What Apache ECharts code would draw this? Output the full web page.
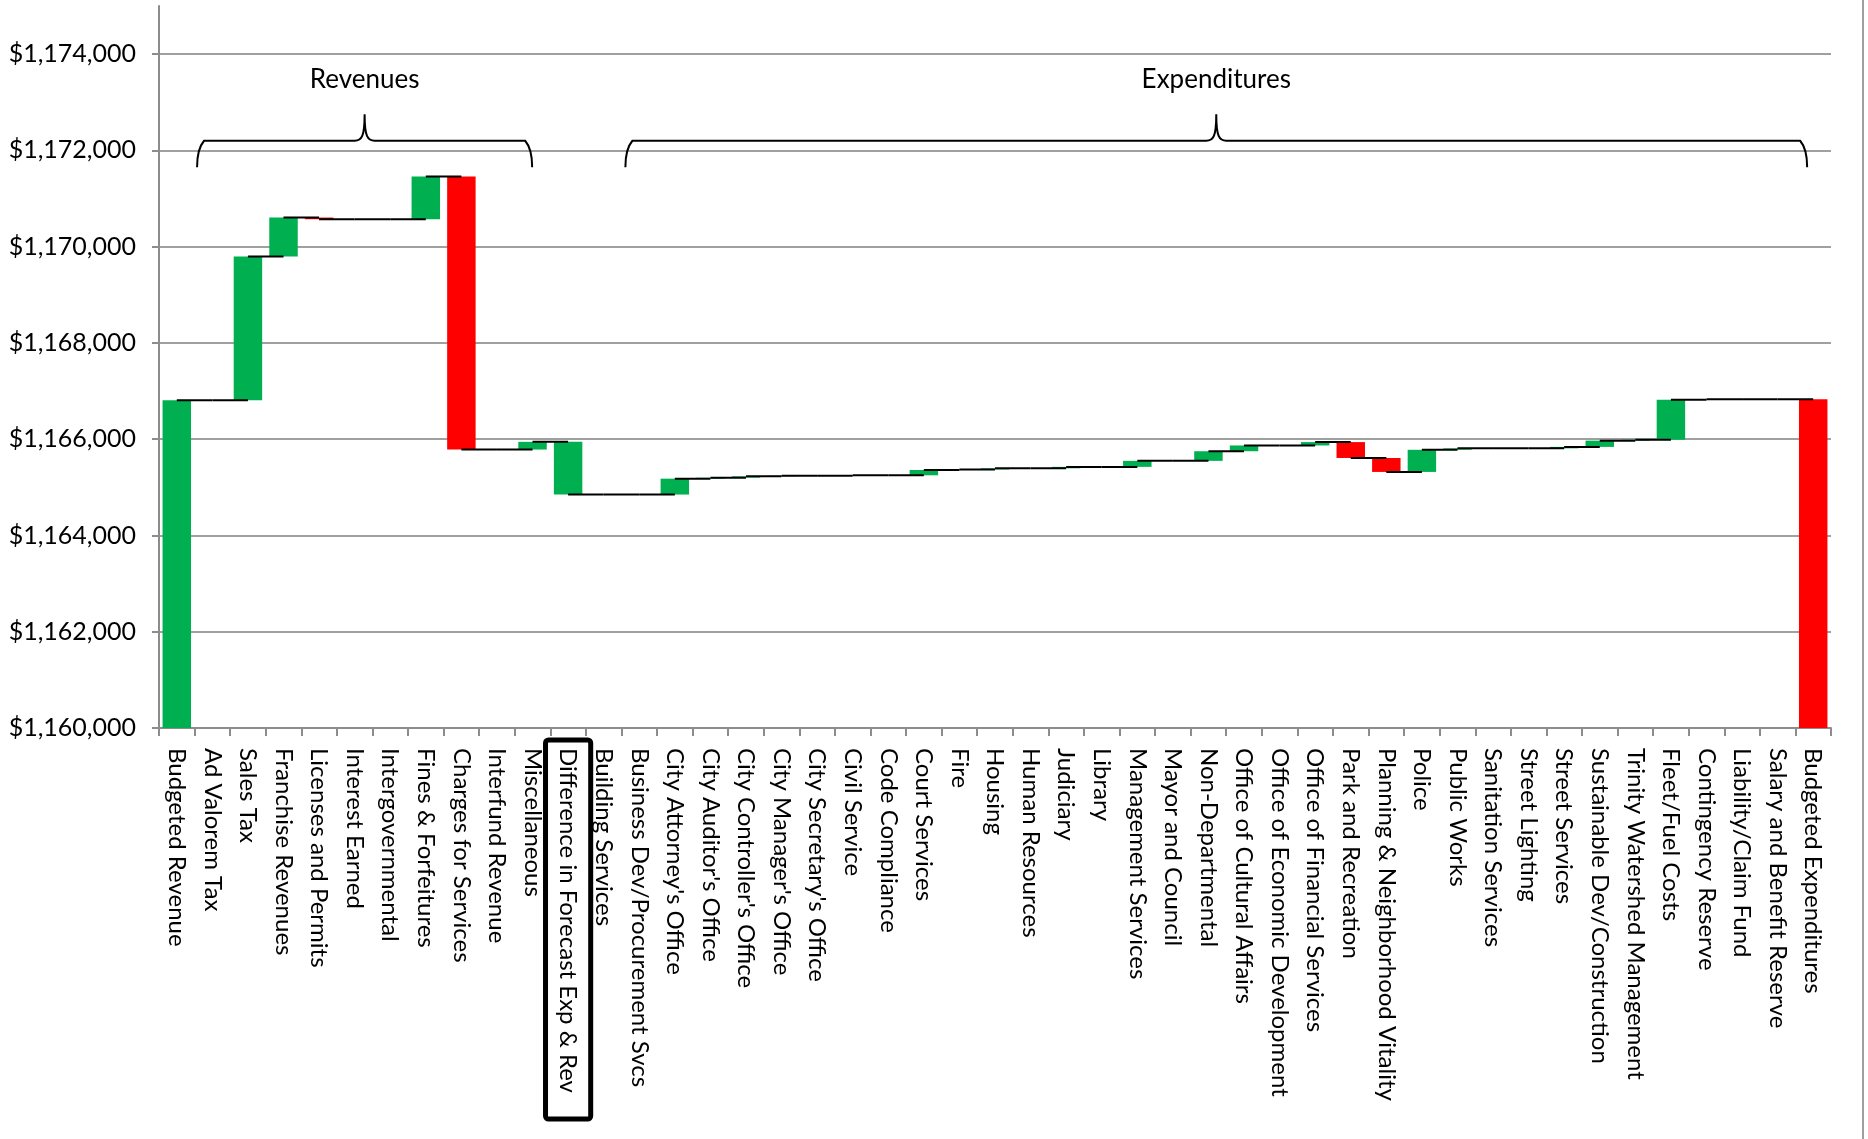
<!DOCTYPE html>
<html>
<head>
<meta charset="utf-8">
<script src="https://cdn.jsdelivr.net/npm/echarts@6/dist/echarts.min.js"></script>
<style>
html,body{margin:0;padding:0;background:#fff;}
#chart{width:1868px;height:1139px;}
</style>
</head>
<body>
<div id="chart"></div>
<script>
// ---------------- data ----------------
const categories = [
  'Budgeted Revenue','Ad Valorem Tax','Sales Tax','Franchise Revenues','Licenses and Permits',
  'Interest Earned','Intergovernmental','Fines & Forfeitures','Charges for Services','Interfund Revenue',
  'Miscellaneous','Difference in Forecast Exp & Rev','Building Services','Business Dev/Procurement Svcs',
  "City Attorney's Office","City Auditor's Office","City Controller's Office","City Manager's Office",
  "City Secretary's Office",'Civil Service','Code Compliance','Court Services','Fire','Housing',
  'Human Resources','Judiciary','Library','Management Services','Mayor and Council','Non-Departmental',
  'Office of Cultural Affairs','Office of Economic Development','Office of Financial Services',
  'Park and Recreation','Planning & Neighborhood Vitality','Police','Public Works','Sanitation Services',
  'Street Lighting','Street Services','Sustainable Dev/Construction','Trinity Watershed Management',
  'Fleet/Fuel Costs','Contingency Reserve','Liability/Claim Fund','Salary and Benefit Reserve',
  'Budgeted Expenditures'
];
// first and last entries are totals, the rest are changes
const amounts = [
  1166810, 0, 2985, 810, -35,
  0, 0, 890, -5675, 0,
  160, -1095, 0, 0,
  330, 20, 30, 10,
  0, 10, 0, 110, 10, 25,
  0, 30, 0, 125, 0, 200,
  120, 0, 70,
  -330, -290, 460, 30, 0,
  0, 30, 130, 20,
  830, 10, 0, 0,
  1166830
];
const totalItems = ['Budgeted Revenue', 'Budgeted Expenditures'];
const favorable = [
  true, true, true, true, false,
  true, true, true, false, true,
  true, true, true, true,
  true, true, true, true,
  true, true, true, true, true, true,
  true, true, true, true, true, true,
  true, true, true,
  false, false, true, true, true,
  true, true, true, true,
  true, true, true, true,
  false
];
const yTickValues = [1160000, 1162000, 1164000, 1166000, 1168000, 1170000, 1172000, 1174000];
const groups = [
  { name: 'Revenues', from: 0.57, to: 9.99 },
  { name: 'Expenditures', from: 12.61, to: 45.83 }
];
const highlightedCategory = 'Difference in Forecast Exp & Rev';

// ---------------- derived ----------------
const GREEN = '#00B050', RED = '#FF0000';
const baseData = [], barData = [], levels = [];
let running = 0;
categories.forEach((c, i) => {
  const a = amounts[i];
  const color = favorable[i] ? GREEN : RED;
  if (totalItems.includes(c)) {
    running = a;
    baseData.push(0);
    barData.push({ value: a, itemStyle: { color } });
  } else {
    const prev = running;
    running = prev + a;
    baseData.push(Math.min(prev, running));
    barData.push({ value: Math.abs(a), itemStyle: { color } });
  }
  levels.push(running);
});
const connectorData = [];
for (let i = 0; i < categories.length - 1; i++) connectorData.push([i, levels[i]]);

const FONT = 'Lato';
const yMin = 1160000, yMax = 1175000;
const bracketTip = 1171650, bracketBar = 1172200, bracketCusp = 1172750, groupLabelLevel = 1173480;

const chart = echarts.init(document.getElementById('chart'), null, { renderer: 'canvas' });

function xAt(api, pos, v) {
  const i = Math.floor(pos);
  const band = api.size([1, 0])[0];
  return api.coord([i, v])[0] + (pos - i) * band;
}

chart.setOption({
  animation: false,
  backgroundColor: '#ffffff',
  textStyle: { fontFamily: FONT },
  grid: { left: 159, right: 37, top: 6, bottom: 411, containLabel: false, outerBoundsMode: 'none' },
  xAxis: {
    type: 'category',
    data: categories,
    boundaryGap: true,
    axisLine: { show: true, lineStyle: { color: '#8c8c8c', width: 2 } },
    axisTick: { show: true, length: 8, alignWithLabel: false, interval: 0, lineStyle: { color: '#8c8c8c', width: 2 } },
    axisLabel: { interval: 0, rotate: -90, margin: 20, color: '#000', fontSize: 24, fontFamily: FONT },
    splitLine: { show: false }
  },
  yAxis: {
    type: 'value',
    min: yMin, max: yMax, interval: 2000,
    axisLine: { show: true, lineStyle: { color: '#8c8c8c', width: 2 } },
    axisTick: { show: true, length: 7, customValues: yTickValues, lineStyle: { color: '#8c8c8c', width: 2 } },
    axisLabel: {
      customValues: yTickValues,
      margin: 23, color: '#000', fontSize: 25, fontFamily: FONT,
      formatter: v => '$' + Number(v).toLocaleString('en-US')
    },
    splitLine: { show: true, lineStyle: { color: '#a0a0a0', width: 2 } }
  },
  series: [
    {
      type: 'bar', stack: 'wf', data: baseData, silent: true,
      itemStyle: { color: 'rgba(0,0,0,0)' }, barCategoryGap: '20%', clip: true
    },
    {
      type: 'bar', stack: 'wf', data: barData, barCategoryGap: '20%', clip: true, z: 2
    },
    {
      type: 'custom', coordinateSystem: 'cartesian2d', z: 5, silent: true,
      data: connectorData,
      encode: { x: 0, y: 1 },
      renderItem: (params, api) => {
        const i = api.value(0), v = api.value(1);
        const p1 = api.coord([i, v]), p2 = api.coord([i + 1, v]);
        return { type: 'line', shape: { x1: p1[0], y1: p1[1], x2: p2[0], y2: p2[1] },
                 style: { stroke: '#000', lineWidth: 2 } };
      }
    },
    {
      type: 'custom', coordinateSystem: 'cartesian2d', z: 6, silent: true, clip: false,
      data: groups.map((g, k) => [k, bracketBar]),
      encode: { x: 0, y: 1 },
      renderItem: (params, api) => {
        const g = groups[params.dataIndex];
        const x0 = xAt(api, g.from, bracketBar), x1 = xAt(api, g.to, bracketBar);
        const cx = (x0 + x1) / 2;
        const yT = api.coord([0, bracketTip])[1];
        const yB = api.coord([0, bracketBar])[1];
        const yC = api.coord([0, bracketCusp])[1];
        const yL = api.coord([0, groupLabelLevel])[1];
        const r = 7;
        const d = [
          'M', x0, yT,
          'C', x0, yT - 10, x0 + 1, yB + r, x0 + r, yB,
          'L', cx - 10, yB,
          'C', cx - 3, yB, cx, yB - 4, cx, yC,
          'C', cx, yB - 4, cx + 3, yB, cx + 10, yB,
          'L', x1 - r, yB,
          'C', x1 - 1, yB + r, x1, yT - 10, x1, yT
        ].join(' ');
        return {
          type: 'group',
          children: [
            { type: 'path', shape: { pathData: d }, style: { stroke: '#000', lineWidth: 2, fill: null } },
            { type: 'text', style: { text: g.name, x: cx, y: yL, align: 'center', verticalAlign: 'middle',
                fontSize: 26, fontFamily: FONT, fill: '#000' } }
          ]
        };
      }
    },
    {
      type: 'custom', coordinateSystem: 'cartesian2d', z: 6, silent: true, clip: false,
      data: [[categories.indexOf(highlightedCategory), yMin]],
      encode: { x: 0, y: 1 },
      renderItem: (params, api) => {
        const p = api.coord([api.value(0), api.value(1)]);
        const band = api.size([1, 0])[0];
        const w = band * 1.27;
        return { type: 'rect', shape: { x: p[0] - w / 2, y: p[1] + 12, width: w, height: 379, r: 3 },
                 style: { stroke: '#000', lineWidth: 5, fill: null } };
      }
    }
  ],
  graphic: [
    { type: 'line', shape: { x1: 1863, y1: 0, x2: 1863, y2: 1139 }, style: { stroke: '#a0a0a0', lineWidth: 2 } }
  ]
});
</script>
</body>
</html>
